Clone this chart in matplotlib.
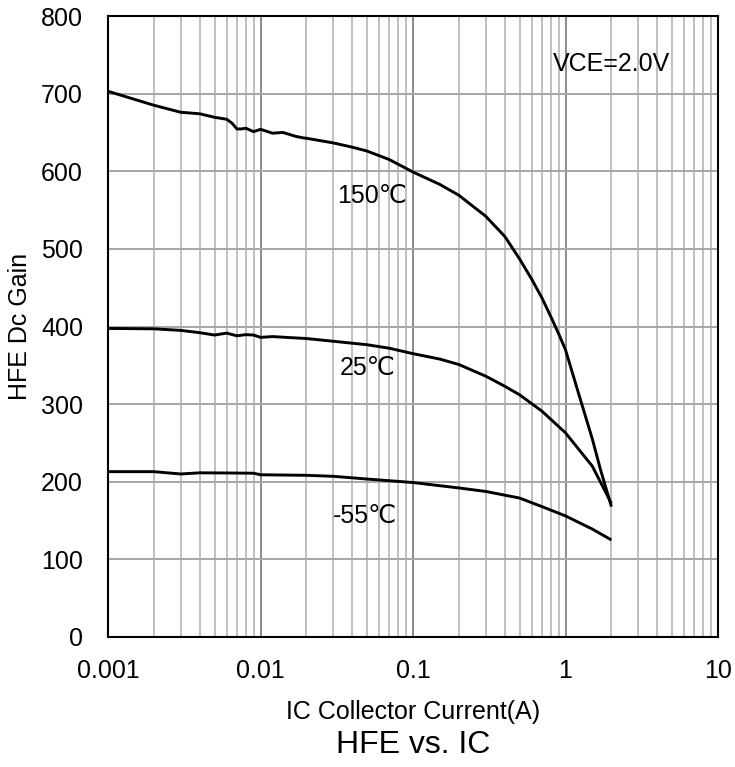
import matplotlib
matplotlib.use("Agg")
import matplotlib.pyplot as plt
from matplotlib.ticker import LogLocator, FixedLocator, NullFormatter

plt.rcParams['font.family'] = ['Liberation Sans', 'DejaVu Sans']

# 150 C curve
ic_150 = [0.001, 0.002, 0.003, 0.004, 0.005, 0.006, 0.0065, 0.007, 0.0075, 0.008, 0.009,
          0.01, 0.012, 0.014, 0.017, 0.019, 0.02, 0.03, 0.04, 0.05, 0.07, 0.1, 0.15, 0.2,
          0.3, 0.4, 0.5, 0.6, 0.7, 0.8, 0.9, 1.0, 1.2, 1.5, 1.7, 2.0]
hfe_150 = [703, 685, 676, 674, 669.5, 667, 662, 654.5, 654.5, 655.5, 651,
           654, 649, 650, 645, 643, 642.5, 636.5, 631, 626, 615, 599, 583, 569,
           542, 516, 487, 461, 437, 413, 391, 370, 318, 255, 215, 168]

# 25 C curve
ic_25 = [0.001, 0.002, 0.003, 0.004, 0.005, 0.006, 0.007, 0.008, 0.009, 0.01, 0.012,
         0.02, 0.03, 0.05, 0.07, 0.1, 0.15, 0.2, 0.3, 0.4, 0.5, 0.7, 1.0, 1.5, 2.0]
hfe_25 = [397.5, 397, 395, 392, 389, 391.5, 388, 389.5, 389, 386, 387,
          384.5, 381, 376.5, 372, 365, 358, 351, 336, 323, 312, 291, 263, 220, 172]

# -55 C curve
ic_m55 = [0.001, 0.002, 0.003, 0.004, 0.006, 0.009, 0.01, 0.02, 0.03, 0.05, 0.1,
          0.2, 0.3, 0.5, 0.7, 1.0, 1.5, 2.0]
hfe_m55 = [213, 213, 210, 211.5, 211.3, 211, 209, 208.3, 207, 203.5, 199,
           192, 187.5, 179, 168, 156, 139, 125]

x_ticks = [0.001, 0.01, 0.1, 1, 10]
x_tick_labels = ["0.001", "0.01", "0.1", "1", "10"]
y_ticks = [0, 100, 200, 300, 400, 500, 600, 700, 800]

labels = ["150℃", "25℃", "-55℃"]
label_pos = [(0.032, 568), (0.033, 347), (0.030, 156)]

fig = plt.figure(figsize=(7.35, 7.67), dpi=100)
ax = fig.add_axes([108/735, 1 - 637/767, (718 - 108)/735, (637 - 16)/767])

ax.set_xscale('log')
ax.set_xlim(0.001, 10)
ax.set_ylim(0, 800)

ax.xaxis.set_major_locator(FixedLocator(x_ticks))
ax.set_xticklabels(x_tick_labels)
ax.xaxis.set_minor_locator(LogLocator(base=10, subs=range(2, 10)))
ax.xaxis.set_minor_formatter(NullFormatter())
ax.set_yticks(y_ticks)

ax.grid(True, which='major', axis='x', color='#8c8c8c', linewidth=1.4)
ax.grid(True, which='minor', axis='x', color='#c0c0c0', linewidth=1.4)
ax.grid(True, which='major', axis='y', color='#a6a6a6', linewidth=1.4)
ax.set_axisbelow(True)

ax.tick_params(which='both', length=0, labelsize=18)
ax.tick_params(axis='y', pad=18)
ax.tick_params(axis='x', pad=16)
for s in ax.spines.values():
    s.set_linewidth(1.5)
    s.set_color('black')

for x, y in [(ic_150, hfe_150), (ic_25, hfe_25), (ic_m55, hfe_m55)]:
    ax.plot(x, y, color='black', linewidth=2.1, solid_joinstyle='round', solid_capstyle='butt')

for t, (x, y) in zip(labels, label_pos):
    ax.text(x, y, t, fontsize=18, ha='left', va='center', color='black')

ax.text(0.83, 738, "VCE=2.0V", fontsize=18, ha='left', va='center', color='black')

ax.set_xlabel("IC Collector Current(A)", fontsize=18, labelpad=12)
ax.set_ylabel("HFE Dc Gain", fontsize=18)
ax.yaxis.set_label_coords((20 - 108) / 610, 0.5)
ax.yaxis.label.set_va('center')
fig.text((108 + 718) / 2 / 735, 1 - 745/767, "HFE vs. IC", fontsize=23, ha='center', va='center')

fig.savefig("out.png", dpi=100)
